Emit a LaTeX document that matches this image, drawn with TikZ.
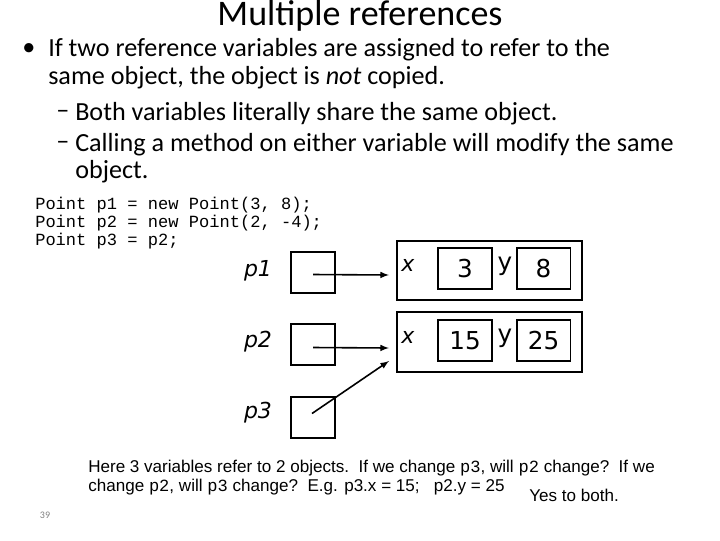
\documentclass[tikz,border=0pt]{standalone}
\usepackage{fontspec}
\setmainfont{Carlito}
\newfontfamily\code{Liberation Mono}
\newfontfamily\dv{DejaVu Sans}
\newfontfamily\ar{Liberation Sans}
\begin{document}
\begin{tikzpicture}[x=0.75pt,y=-0.75pt,
  refbox/.style={draw,line width=1pt},
  lbl/.style={font=\dv\itshape\fontsize{16.5}{18}\selectfont},
  val/.style={font=\dv\fontsize{18.5}{20}\selectfont},
  arr/.style={-latex,line width=1.2pt},
  body/.style={anchor=west,font=\fontsize{19.6}{23}\selectfont,inner sep=0},
  cd/.style={anchor=west,font=\code\fontsize{12.8}{15}\selectfont,inner sep=0}]
\useasboundingbox (0,0) rectangle (720,540);
\node[font=\fontsize{27}{30}\selectfont] (title) at (360,16) {Multiple references};
\node[body] (b0) at (22,50) {•};
\node[body] (b1) at (48,50) {If two reference variables are assigned to refer to the};
\node[body] (b2) at (48,78) {same object, the object is \textit{not} copied.};
\node[body] (s0) at (56,114) {–};
\node[body] (s1) at (75,114) {Both variables literally share the same object.};
\node[body] (s2) at (56,145) {–};
\node[body] (s3) at (75,145) {Calling a method on either variable will modify the same};
\node[body] (s4) at (75,172) {object.};
\node[cd] (c1) at (35,205) {Point p1 = new Point(3, 8);};
\node[cd] (c2) at (35,223) {Point p2 = new Point(2, -4);};
\node[cd] (c3) at (35,241) {Point p3 = p2;};
% objects
\draw[refbox] (397,241) rectangle (582,300);
\draw[refbox] (397,312) rectangle (582,372);
\node[refbox,minimum width=40.5pt,minimum height=30.75pt,val] (x1) at (465,268.5) {3};
\node[refbox,minimum width=40pt,minimum height=30.75pt,val] (y1) at (543.5,268.5) {8};
\node[refbox,minimum width=40.5pt,minimum height=30.75pt,val] (x2) at (465,340.5) {15};
\node[refbox,minimum width=40pt,minimum height=30.75pt,val] (y2) at (543.5,340.5) {25};
\node[lbl] (lx1) at (408,265) {x};
\node[val] (ly1) at (505,266) {y};
\node[lbl] (lx2) at (408,337) {x};
\node[val] (ly2) at (505,338) {y};
% refs
\node[refbox,minimum width=33pt,minimum height=30.75pt] (r1) at (313,272.5) {};
\node[refbox,minimum width=33pt,minimum height=30.75pt] (r2) at (313,344.5) {};
\node[refbox,minimum width=33pt,minimum height=30.75pt] (r3) at (313,417.5) {};
\node[lbl] (l1) at (258,271) {p1};
\node[lbl] (l2) at (258,342) {p2};
\node[lbl] (l3) at (258,413) {p3};
\coordinate (t1) at (389,275);
\coordinate (t2) at (389,348);
\coordinate (t3) at (389,361);
\draw[arr] (r1.center)++(0,2) coordinate (a1) (a1) -- (t1);
\draw[arr] (r2.center)++(0,3) coordinate (a2) (a2) -- (t2);
\draw[arr] (r3.center)++(-1,-4) coordinate (a3) (a3) -- (t3);
\node[anchor=west,font=\ar\fontsize{12.8}{15}\selectfont,inner sep=0] (n1) at (88,468) {Here 3 variables refer to 2 objects.\ \ If we change {\code p3}, will {\code p2} change?\ \ If we};
\node[anchor=west,font=\ar\fontsize{12.8}{15}\selectfont,inner sep=0] (n2) at (88,487) {change {\code p2}, will {\code p3} change?\ \ E.g. p3.x = 15;\ \ \ p2.y = 25};
\node[anchor=west,font=\ar\fontsize{12.8}{15}\selectfont,inner sep=0] (n3) at (529,495) {Yes to both.};
\node[font=\fontsize{7.5}{8}\selectfont,text=gray] (pg) at (45,515) {39};
\end{tikzpicture}
\end{document}
